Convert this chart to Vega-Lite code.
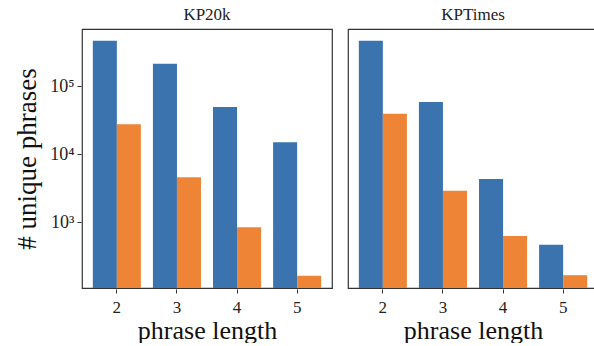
{
  "$schema": "https://vega.github.io/schema/vega-lite/v6.json",
  "padding": {"left": 13, "top": 6, "right": 0, "bottom": 0},
  "background": "white",
  "data": {"values": [
    {"dataset": "KP20k", "length": 2, "series": "set 1", "count": 464000},
    {"dataset": "KP20k", "length": 2, "series": "set 2", "count": 27500},
    {"dataset": "KP20k", "length": 3, "series": "set 1", "count": 213000},
    {"dataset": "KP20k", "length": 3, "series": "set 2", "count": 4540},
    {"dataset": "KP20k", "length": 4, "series": "set 1", "count": 49000},
    {"dataset": "KP20k", "length": 4, "series": "set 2", "count": 835},
    {"dataset": "KP20k", "length": 5, "series": "set 1", "count": 14900},
    {"dataset": "KP20k", "length": 5, "series": "set 2", "count": 162},
    {"dataset": "KPTimes", "length": 2, "series": "set 1", "count": 464000},
    {"dataset": "KPTimes", "length": 2, "series": "set 2", "count": 39200},
    {"dataset": "KPTimes", "length": 3, "series": "set 1", "count": 58200},
    {"dataset": "KPTimes", "length": 3, "series": "set 2", "count": 2890},
    {"dataset": "KPTimes", "length": 4, "series": "set 1", "count": 4280},
    {"dataset": "KPTimes", "length": 4, "series": "set 2", "count": 622},
    {"dataset": "KPTimes", "length": 5, "series": "set 1", "count": 463},
    {"dataset": "KPTimes", "length": 5, "series": "set 2", "count": 165}
  ]},
  "facet": {
    "column": {
      "field": "dataset",
      "type": "nominal",
      "sort": ["KP20k", "KPTimes"],
      "header": {"title": null, "labelFont": "Liberation Serif", "labelFontSize": 17, "labelColor": "#222", "labelPadding": 4}
    }
  },
  "spacing": 14,
  "spec": {
    "width": 250,
    "height": 259,
    "mark": {"type": "bar", "orient": "vertical"},
    "encoding": {
      "x": {
        "field": "length", "type": "ordinal",
        "scale": {"paddingInner": 0.2, "paddingOuter": 0.18},
        "axis": {"title": "phrase length", "labelAngle": 0, "domain": false, "grid": false,
                 "tickColor": "#333", "tickSize": 4, "labelPadding": 6, "labelFontSize": 17,
                 "titleFontSize": 26, "titleFontWeight": "normal", "titlePadding": 2}
      },
      "xOffset": {"field": "series", "type": "nominal", "scale": {"paddingInner": 0, "paddingOuter": 0}},
      "y": {
        "field": "count", "type": "quantitative", "stack": null,
        "scale": {"type": "log", "domain": [107, 690000], "nice": false, "zero": false},
        "axis": {"title": "# unique phrases", "values": [1000, 10000, 100000], "grid": false, "domain": false,
                 "labelExpr": "datum.value == 1000 ? '10³' : datum.value == 10000 ? '10⁴' : '10⁵'",
                 "tickColor": "#333", "tickSize": 4, "labelPadding": 3,
                 "titleFontSize": 27, "titleFontWeight": "normal", "titlePadding": 8}
      },
      "color": {"field": "series", "type": "nominal", "legend": null,
                "scale": {"domain": ["set 1", "set 2"], "range": ["#3a73ae", "#ee8536"]}}
    }
  },
  "config": {
    "font": "Liberation Serif",
    "view": {"stroke": "#333", "strokeWidth": 1.2},
    "axis": {"labelFont": "Liberation Serif", "titleFont": "Liberation Serif", "labelFontSize": 18, "labelColor": "#222", "titleColor": "#111"}
  }
}
